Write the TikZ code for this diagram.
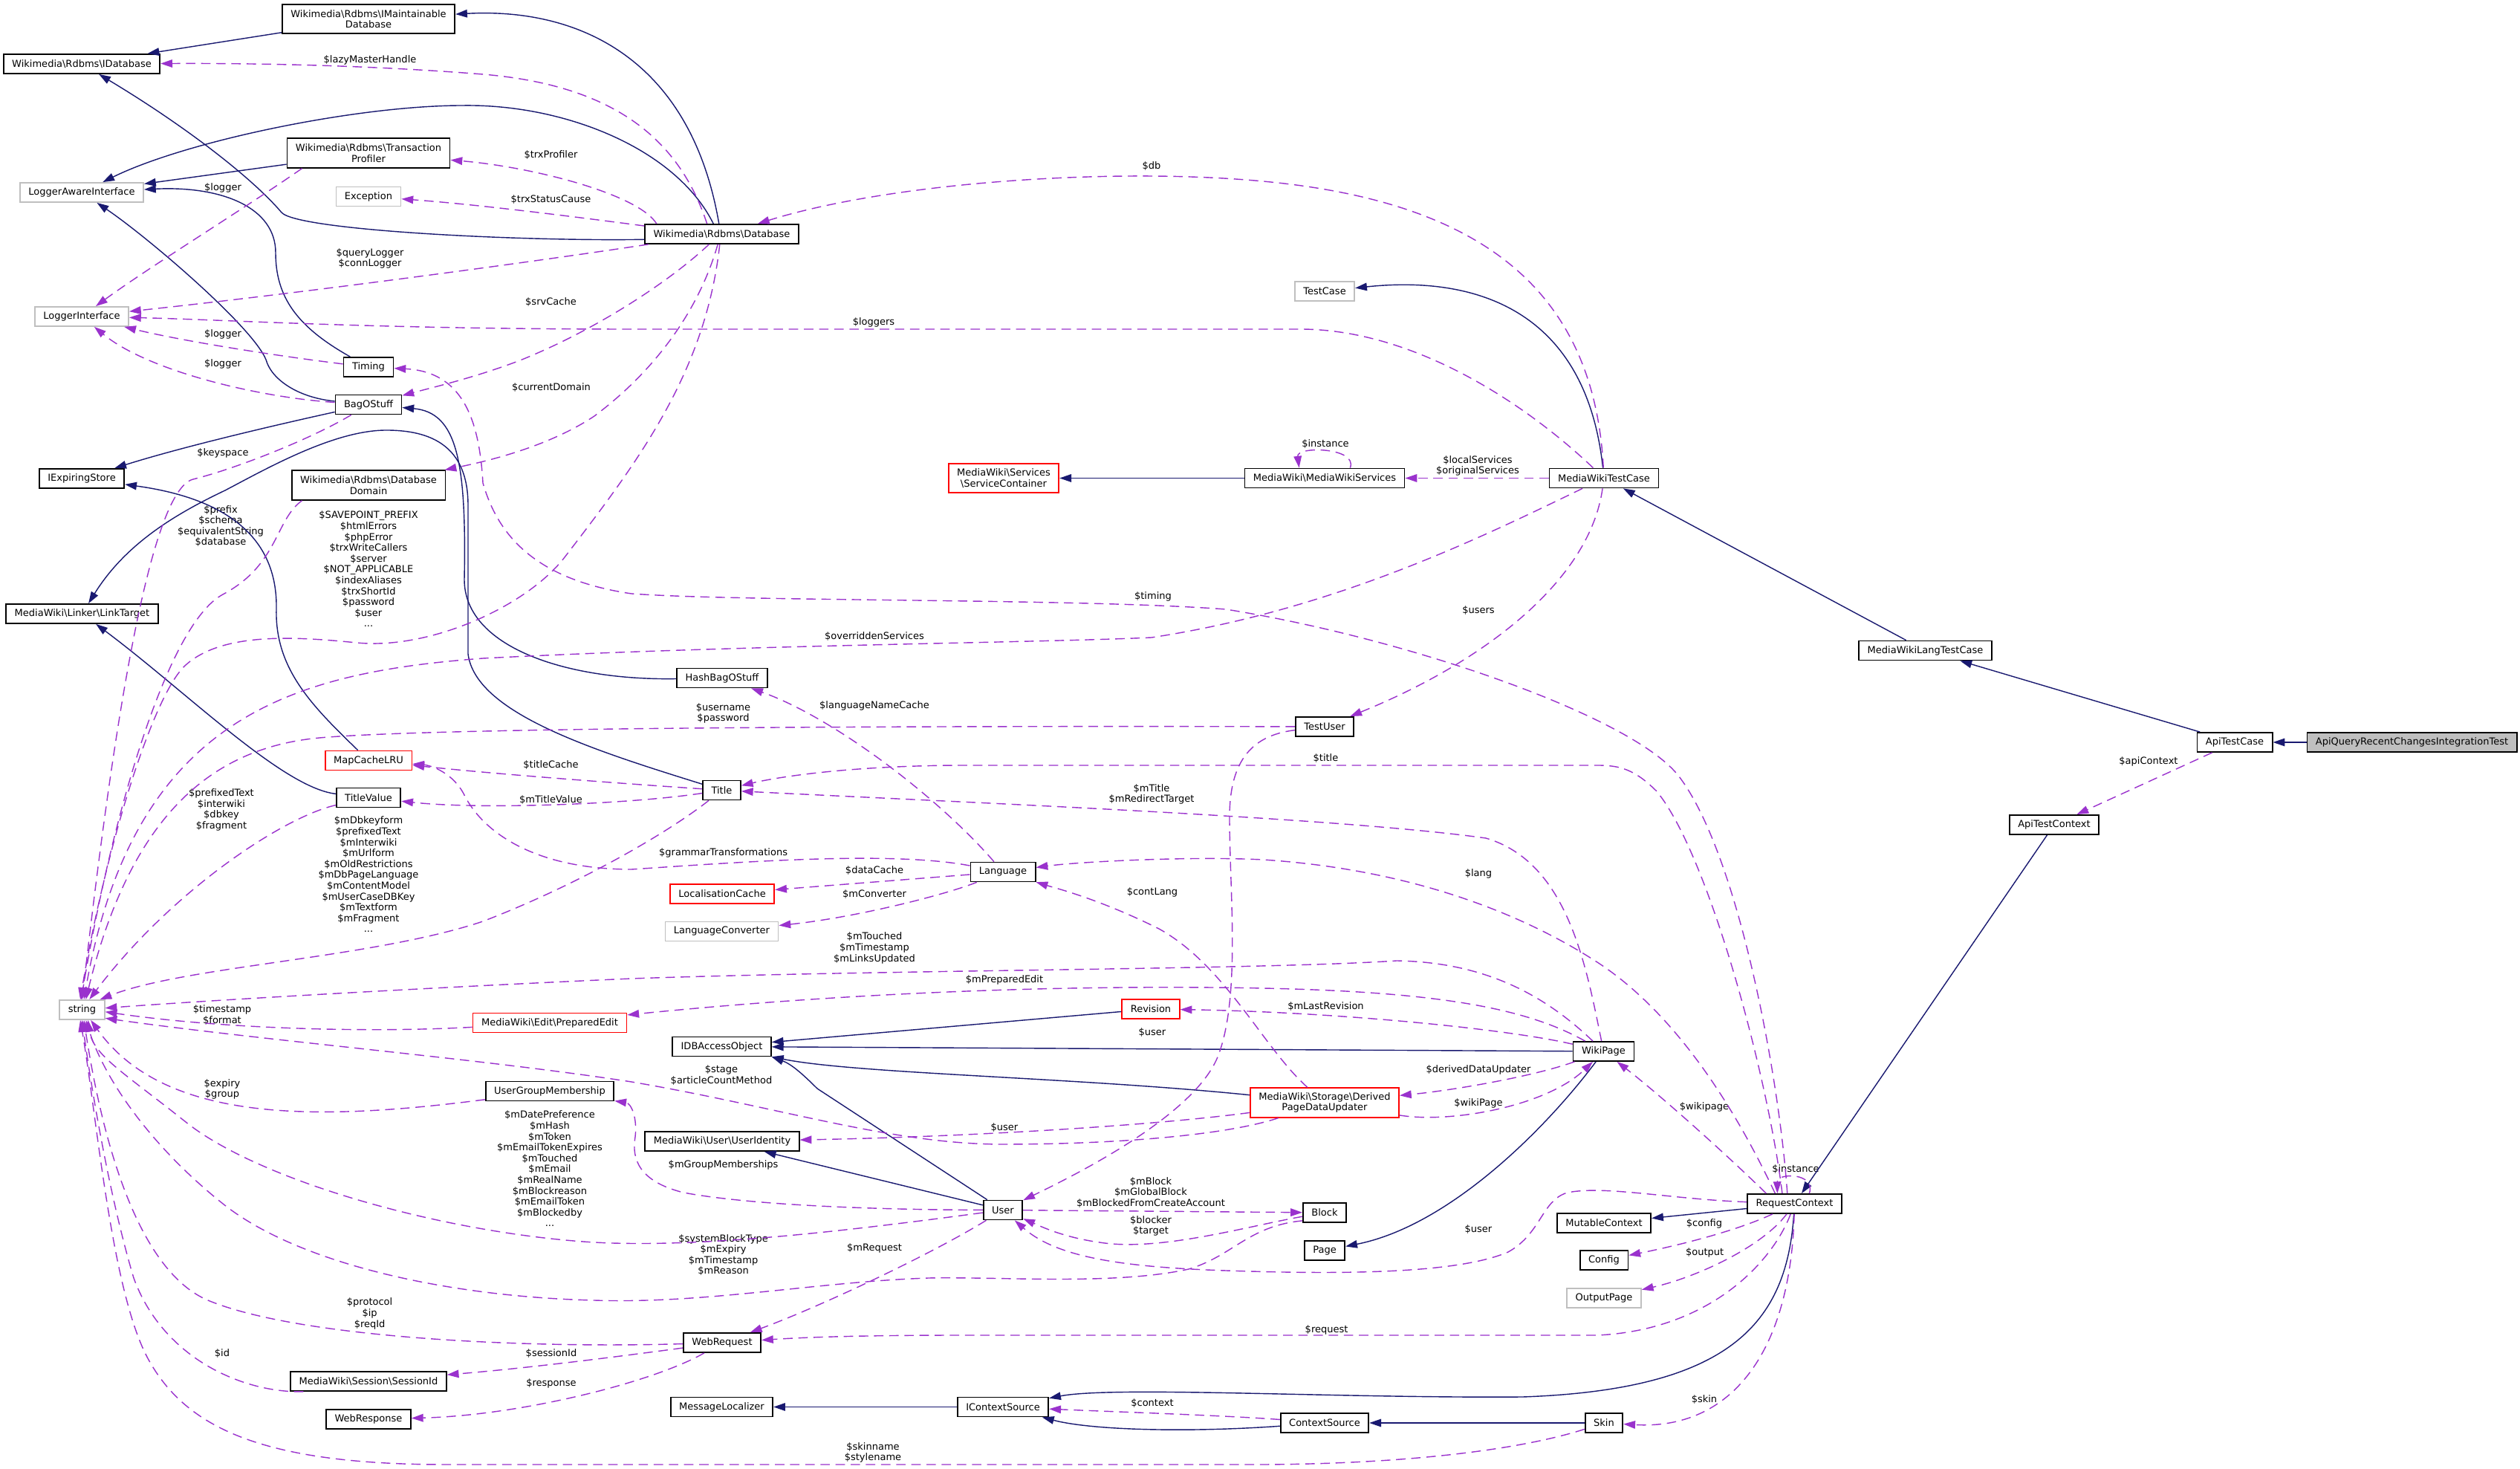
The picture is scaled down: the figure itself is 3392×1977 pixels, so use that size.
\documentclass[tikz,border=0pt]{standalone}
\usepackage{fontspec}
\setmainfont{DejaVu Sans}
\usetikzlibrary{arrows.meta}
\definecolor{EdgeNavy}{HTML}{191970}
\definecolor{EdgeOrchid}{HTML}{9A32CD}
\definecolor{Grey75}{HTML}{BFBFBF}
\newcommand{\bsl}{\textbackslash}

\begin{document}
\begin{tikzpicture}[
        x=0.01cm, y=-0.01cm,
        every node/.style={font=\fontsize{3.7}{4.15}\selectfont, inner sep=0pt},
        cls/.style={draw=black, fill=white, line width=0.5pt, align=center, inner xsep=0.115cm, inner ysep=0.04cm, minimum height=0.26cm},
        twoline/.style={minimum height=0.395cm},
        extcls/.style={cls, draw=Grey75},
        trunccls/.style={cls, draw=red},
        focuscls/.style={cls, fill=Grey75},
        lbl/.style={align=center},
        inherit/.style={-{Triangle[length=4.5pt,width=3pt]}, line width=0.4pt, draw=EdgeNavy},
        member/.style={-{Triangle[length=4.5pt,width=3pt]}, line width=0.4pt, draw=EdgeOrchid, dash pattern=on 3.6pt off 2.2pt}
    ]
        \path[use as bounding box, fill=white] (0,0) rectangle (3392,1977);

        \node[cls, twoline] (imdb) at (496,25.5) {Wikimedia\bsl Rdbms\bsl IMaintainable\\Database};
        \node[cls] (idb) at (110,86) {Wikimedia\bsl Rdbms\bsl IDatabase};
        \node[cls, twoline] (tp) at (496,206) {Wikimedia\bsl Rdbms\bsl Transaction\\Profiler};
        \node[extcls] (lai) at (110,259) {LoggerAwareInterface};
        \node[extcls] (exc) at (496,264.5) {Exception};
        \node[cls] (db) at (971.5,315) {Wikimedia\bsl Rdbms\bsl Database};
        \node[extcls] (tc) at (1783,392) {TestCase};
        \node[extcls] (logi) at (110,426) {LoggerInterface};
        \node[cls] (tim) at (496,494) {Timing};
        \node[cls] (bos) at (496,544.5) {BagOStuff};
        \node[cls] (exps) at (110,644) {IExpiringStore};
        \node[cls, twoline] (dd) at (496,653) {Wikimedia\bsl Rdbms\bsl Database\\Domain};
        \node[trunccls, twoline] (sc) at (1351,643.5) {MediaWiki\bsl Services\\\bsl ServiceContainer};
        \node[cls] (mws) at (1783,643.5) {MediaWiki\bsl MediaWikiServices};
        \node[cls] (mwtc) at (2159,643.5) {MediaWikiTestCase};
        \node[cls] (lt) at (110.5,826) {MediaWiki\bsl Linker\bsl LinkTarget};
        \node[cls] (mwltc) at (2591.5,875.5) {MediaWikiLangTestCase};
        \node[cls] (hbos) at (972,912.5) {HashBagOStuff};
        \node[cls] (tu) at (1783,978) {TestUser};
        \node[cls] (atc) at (3008,999) {ApiTestCase};
        \node[focuscls] (aq) at (3246.5,999) {ApiQueryRecentChangesIntegrationTest};
        \node[trunccls] (mcl) at (496,1023.5) {MapCacheLRU};
        \node[cls] (ttl) at (971.5,1063.5) {Title};
        \node[cls] (tv) at (496,1073.5) {TitleValue};
        \node[cls] (atctx) at (2765,1110) {ApiTestContext};
        \node[cls] (lang) at (1350,1173.5) {Language};
        \node[trunccls] (lc) at (972,1203) {LocalisationCache};
        \node[extcls] (lconv) at (971.5,1253.5) {LanguageConverter};
        \node[extcls] (str) at (110.5,1359) {string};
        \node[trunccls] (rev) at (1549,1358) {Revision};
        \node[trunccls] (pe) at (740,1376.5) {MediaWiki\bsl Edit\bsl PreparedEdit};
        \node[cls] (idbao) at (971.5,1408.5) {IDBAccessObject};
        \node[cls] (wp) at (2158.5,1415) {WikiPage};
        \node[cls] (ugm) at (740,1468.5) {UserGroupMembership};
        \node[trunccls, twoline] (dpdu) at (1783,1484) {MediaWiki\bsl Storage\bsl Derived\\PageDataUpdater};
        \node[cls] (uid) at (972,1536) {MediaWiki\bsl User\bsl UserIdentity};
        \node[cls] (rc) at (2415.5,1620) {RequestContext};
        \node[cls] (usr) at (1350,1628.5) {User};
        \node[cls] (blk) at (1783,1632) {Block};
        \node[cls] (mc) at (2159,1646) {MutableContext};
        \node[cls] (pg) at (1783,1683) {Page};
        \node[cls] (cfg) at (2159,1696) {Config};
        \node[extcls] (op) at (2159,1747) {OutputPage};
        \node[cls] (wreq) at (972,1807) {WebRequest};
        \node[cls] (sid) at (496,1859) {MediaWiki\bsl Session\bsl SessionId};
        \node[cls] (ml) at (971.5,1893.5) {MessageLocalizer};
        \node[cls] (ics) at (1350,1893.5) {IContextSource};
        \node[cls] (wres) at (496,1910) {WebResponse};
        \node[cls] (cs) at (1783,1915) {ContextSource};
        \node[cls] (skin) at (2159,1915) {Skin};

        \node[lbl] (lLazy) at (498,81) {\$lazyMasterHandle};
        \node[lbl] (lTrxProf) at (741.5,209) {\$trxProfiler};
        \node[lbl] (lLogTp) at (300,252.5) {\$logger};
        \node[lbl] (lTrxStat) at (741.5,268.5) {\$trxStatusCause};
        \node[lbl] (lQuery) at (498,348) {\$queryLogger\\\$connLogger};
        \node[lbl] (lSrv) at (741.5,406.6) {\$srvCache};
        \node[lbl] (lLogTim) at (300,450) {\$logger};
        \node[lbl] (lLogBos) at (300,489.5) {\$logger};
        \node[lbl] (lDomain) at (742,522) {\$currentDomain};
        \node[lbl] (lKey) at (300,610) {\$keyspace};
        \node[lbl] (lDb) at (1550,224) {\$db};
        \node[lbl] (lLoggers) at (1176,434) {\$loggers};
        \node[lbl] (lInstMws) at (1784,597.6) {\$instance};
        \node[lbl] (lServices) at (1989,627) {\$localServices\\\$originalServices};
        \node[lbl] (lPrefix) at (297,708) {\$prefix\\\$schema\\\$equivalentString\\\$database};
        \node[lbl] (lSave) at (496,766) {\$SAVEPOINT\_PREFIX\\\$htmlErrors\\\$phpError\\\$trxWriteCallers\\\$server\\\$NOT\_APPLICABLE\\\$indexAliases\\\$trxShortId\\\$password\\\$user\\...};
        \node[lbl] (lTiming) at (1552,803) {\$timing};
        \node[lbl] (lOverr) at (1177,857) {\$overriddenServices};
        \node[lbl] (lUsers) at (1990,822) {\$users};
        \node[lbl] (lLangName) at (1177,950) {\$languageNameCache};
        \node[lbl] (lUserPw) at (973.5,960) {\$username\\\$password};
        \node[lbl] (lTitle) at (1784.5,1021) {\$title};
        \node[lbl] (lTitleCache) at (741.5,1030) {\$titleCache};
        \node[lbl] (lApiCtx) at (2892,1025) {\$apiContext};
        \node[lbl] (lMTitle) at (1550,1069) {\$mTitle\\\$mRedirectTarget};
        \node[lbl] (lTitleVal) at (741.5,1076.6) {\$mTitleValue};
        \node[lbl] (lPrefText) at (298,1090) {\$prefixedText\\\$interwiki\\\$dbkey\\\$fragment};
        \node[lbl] (lDbkey) at (496,1177) {\$mDbkeyform\\\$prefixedText\\\$mInterwiki\\\$mUrlform\\\$mOldRestrictions\\\$mDbPageLanguage\\\$mContentModel\\\$mUserCaseDBKey\\\$mTextform\\\$mFragment\\...};
        \node[lbl] (lGrammar) at (973.6,1148) {\$grammarTransformations};
        \node[lbl] (lDataCache) at (1177,1172) {\$dataCache};
        \node[lbl] (lLang) at (1990,1176) {\$lang};
        \node[lbl] (lConv) at (1177,1204) {\$mConverter};
        \node[lbl] (lContLang) at (1551,1201) {\$contLang};
        \node[lbl] (lTouched) at (1177,1276) {\$mTouched\\\$mTimestamp\\\$mLinksUpdated};
        \node[lbl] (lPrepEdit) at (1352,1319) {\$mPreparedEdit};
        \node[lbl] (lLastRev) at (1784.5,1354.5) {\$mLastRevision};
        \node[lbl] (lTimestamp) at (299,1366) {\$timestamp\\\$format};
        \node[lbl] (lUserTu) at (1551,1390) {\$user};
        \node[lbl] (lDerived) at (1990,1440) {\$derivedDataUpdater};
        \node[lbl] (lStage) at (971,1447) {\$stage\\\$articleCountMethod};
        \node[lbl] (lExpiry) at (299,1466) {\$expiry\\\$group};
        \node[lbl] (lWikiPageU) at (1990,1484.5) {\$wikiPage};
        \node[lbl] (lWikipageRc) at (2294,1490) {\$wikipage};
        \node[lbl] (lUserDpdu) at (1352,1518) {\$user};
        \node[lbl] (lGroups) at (973.6,1568) {\$mGroupMemberships};
        \node[lbl] (lInstRc) at (2417,1574) {\$instance};
        \node[lbl] (lDatePref) at (740,1573) {\$mDatePreference\\\$mHash\\\$mToken\\\$mEmailTokenExpires\\\$mTouched\\\$mEmail\\\$mRealName\\\$mBlockreason\\\$mEmailToken\\\$mBlockedby\\...};
        \node[lbl] (lBlock) at (1549,1605) {\$mBlock\\\$mGlobalBlock\\\$mBlockedFromCreateAccount};
        \node[lbl] (lConfig) at (2294,1646.5) {\$config};
        \node[lbl] (lBlocker) at (1549,1650) {\$blocker\\\$target};
        \node[lbl] (lUserRc) at (1990,1654.5) {\$user};
        \node[lbl] (lMReq) at (1177,1680) {\$mRequest};
        \node[lbl] (lOutput) at (2294.6,1685.7) {\$output};
        \node[lbl] (lSysBlock) at (973.6,1689) {\$systemBlockType\\\$mExpiry\\\$mTimestamp\\\$mReason};
        \node[lbl] (lProto) at (497.6,1768) {\$protocol\\\$ip\\\$reqId};
        \node[lbl] (lRequest) at (1785.6,1789.6) {\$request};
        \node[lbl] (lId) at (299,1822) {\$id};
        \node[lbl] (lSession) at (742,1822) {\$sessionId};
        \node[lbl] (lResponse) at (742,1862) {\$response};
        \node[lbl] (lSkin) at (2294,1884) {\$skin};
        \node[lbl] (lContext) at (1551,1889) {\$context};
        \node[lbl] (lSkinName) at (1175,1955) {\$skinname\\\$stylename};

        \draw[inherit] (imdb) -- (idb);
        \draw[inherit] (db.105) .. controls (930,80) and (780,10) .. (imdb);
        \draw[inherit] (db.129) .. controls (910,200) and (760,140) .. (623,142) .. controls (480,142) and (250,190) .. (lai);
        \draw[inherit] (db.184) .. controls (700,325) and (400,310) .. (379,286) .. controls (340,240) and (250,170) .. (idb);
        \draw[inherit] (tp) -- (lai);
        \draw[inherit] (tim) .. controls (400,440) and (371,400) .. (371,340) .. controls (371,280) and (300,250) .. (lai);
        \draw[inherit] (bos) .. controls (400,535) and (365,510) .. (358,484) .. controls (340,440) and (200,320) .. (lai);
        \draw[inherit] (bos) .. controls (380,570) and (250,600) .. (exps);
        \draw[inherit] (hbos) .. controls (760,916) and (625,870) .. (625,780) .. controls (628,620) and (615,555) .. (bos);
        \draw[inherit] (mcl) .. controls (420,950) and (370,900) .. (372,820) .. controls (374,720) and (300,670) .. (exps);
        \draw[inherit] (ttl) .. controls (800,1010) and (640,960) .. (630,880) -- (630,680) .. controls (630,600) and (580,579) .. (520,579) .. controls (450,579) and (360,630) .. (303,660) .. controls (240,690) and (170,730) .. (lt);
        \draw[inherit] (tv) .. controls (380,1060) and (250,930) .. (lt);
        \draw[inherit] (mwtc) .. controls (2135,420) and (1990,370) .. (tc);
        \draw[inherit] (mws) -- (sc);
        \draw[inherit] (mwltc) -- (mwtc);
        \draw[inherit] (atc) -- (mwltc);
        \draw[inherit] (aq) -- (atc);
        \draw[inherit] (atctx) -- (rc);
        \draw[inherit] (rev) -- (idbao);
        \draw[inherit] (wp) -- (idbao);
        \draw[inherit] (dpdu) .. controls (1450,1450) and (1150,1445) .. (idbao);
        \draw[inherit] (usr) -- (1100,1465) .. controls (1080,1445) and (1065,1432) .. (idbao.south east);
        \draw[inherit] (usr) -- (uid);
        \draw[inherit] (wp) .. controls (2080,1520) and (1950,1650) .. (pg);
        \draw[inherit] (rc) -- (mc);
        \draw[inherit] (rc) .. controls (2405,1780) and (2330,1870) .. (2050,1880) .. controls (1800,1882) and (1500,1865) .. (ics);
        \draw[inherit] (cs) .. controls (1600,1928) and (1470,1925) .. (ics);
        \draw[inherit] (ics) -- (ml);
        \draw[inherit] (skin) -- (cs);

        \draw[member] (db.145) .. controls (915,190) and (830,115) .. (650,100) .. controls (500,88) and (350,85) .. (idb);
        \draw[member] (db.171) .. controls (860,262) and (720,225) .. (tp);
        \draw[member] (db.174) .. controls (760,290) and (640,275) .. (exc);
        \draw[member] (db.188) .. controls (700,355) and (400,395) .. (logi);
        \draw[member] (db.219) .. controls (900,380) and (800,445) .. (700,485) .. controls (640,508) and (580,522) .. (bos);
        \draw[member] (db.249) .. controls (940,420) and (880,500) .. (800,560) .. controls (740,600) and (660,620) .. (dd);
        \draw[member] (db.259) .. controls (950,500) and (860,620) .. (760,750) .. controls (710,815) and (580,875) .. (480,865) .. controls (400,857) and (300,850) .. (250,895) .. controls (205,935) and (140,1150) .. (str.100);
        \draw[member] (dd.193) .. controls (370,700) and (375,760) .. (300,800) .. controls (225,840) and (150,1100) .. (str.95);
        \draw[member] (bos) .. controls (420,590) and (320,630) .. (260,645) .. controls (200,660) and (150,1000) .. (str.90);
        \draw[member] (tp.193) .. controls (330,280) and (200,360) .. (logi);
        \draw[member] (tim) .. controls (380,480) and (250,460) .. (logi);
        \draw[member] (bos) .. controls (350,535) and (200,500) .. (logi);
        \draw[member] (mwtc) .. controls (2145,380) and (1980,270) .. (1700,244) .. controls (1500,225) and (1200,245) .. (db.16);
        \draw[member] (mwtc) .. controls (2050,540) and (1900,443) .. (1750,443) -- (850,443) .. controls (500,443) and (300,430) .. (logi);
        \draw[member] (mwtc) -- (mws);
        \draw[member] (mwtc) .. controls (2000,720) and (1800,820) .. (1550,858) .. controls (1400,865) and (1000,868) .. (650,886) .. controls (400,905) and (180,960) .. (str.80);
        \draw[member] (mwtc) .. controls (2140,780) and (2000,890) .. (tu);
        \draw[member] (mws.22) .. controls (1828,602) and (1745,600) .. (mws.158);
        \draw[member] (rc.125) .. controls (2395,1450) and (2340,1150) .. (2260,1045) .. controls (2200,966) and (1900,860) .. (1650,820) .. controls (1450,805) and (1000,810) .. (850,799) .. controls (720,780) and (670,720) .. (650,650) .. controls (645,560) and (620,500) .. (tim);
        \draw[member] (rc.140) .. controls (2380,1450) and (2300,1150) .. (2230,1065) .. controls (2200,1035) and (2180,1030) .. (2150,1030) -- (1300,1030) .. controls (1150,1030) and (1050,1045) .. (ttl);
        \draw[member] (wp) .. controls (2135,1300) and (2110,1160) .. (2000,1128) .. controls (1800,1100) and (1300,1080) .. (ttl);
        \draw[member] (rc.152) .. controls (2330,1480) and (2250,1360) .. (2150,1295) .. controls (2050,1230) and (1900,1170) .. (1700,1157) .. controls (1600,1152) and (1450,1160) .. (lang);
        \draw[member] (wp) .. controls (2080,1340) and (2000,1295) .. (1880,1293) .. controls (1700,1305) and (1200,1305) .. (850,1317) .. controls (600,1328) and (300,1345) .. (str);
        \draw[member] (wp) .. controls (2060,1360) and (1950,1335) .. (1700,1330) .. controls (1400,1324) and (1100,1340) .. (pe);
        \draw[member] (wp) .. controls (2030,1385) and (1800,1362) .. (rev);
        \draw[member] (tu) .. controls (1300,977) and (600,978) .. (430,993) .. controls (300,1005) and (180,1080) .. (str.70);
        \draw[member] (tu) .. controls (1680,990) and (1655,1030) .. (1655,1100) .. controls (1655,1200) and (1670,1340) .. (1640,1420) .. controls (1610,1500) and (1450,1580) .. (usr);
        \draw[member] (dpdu) .. controls (1700,1410) and (1650,1300) .. (1560,1250) .. controls (1480,1210) and (1420,1195) .. (lang);
        \draw[member] (lang) .. controls (1260,1070) and (1120,965) .. (hbos);
        \draw[member] (lang) .. controls (1200,1145) and (1000,1160) .. (850,1170) .. controls (720,1170) and (650,1120) .. (625,1070) .. controls (610,1040) and (580,1030) .. (mcl);
        \draw[member] (lang) -- (lc);
        \draw[member] (lang) .. controls (1270,1205) and (1150,1235) .. (lconv);
        \draw[member] (ttl) .. controls (800,1052) and (650,1040) .. (mcl);
        \draw[member] (ttl) .. controls (850,1082) and (650,1090) .. (tv);
        \draw[member] (ttl) .. controls (900,1120) and (780,1190) .. (650,1240) .. controls (500,1290) and (250,1300) .. (str.30);
        \draw[member] (tv) .. controls (380,1100) and (230,1200) .. (str.55);
        \draw[member] (pe) .. controls (500,1390) and (300,1385) .. (str.-5);
        \draw[member] (dpdu) .. controls (1650,1528) and (1500,1540) .. (1350,1540) .. controls (1200,1540) and (1050,1490) .. (850,1456) .. controls (650,1425) and (350,1400) .. (str.-20);
        \draw[member] (dpdu) .. controls (1550,1515) and (1300,1530) .. (uid);
        \draw[member] (wp) .. controls (2060,1450) and (1950,1468) .. (dpdu);
        \draw[member] (dpdu) .. controls (1950,1512) and (2080,1490) .. (wp);
        \draw[member] (rc.160) .. controls (2320,1550) and (2230,1470) .. (wp);
        \draw[member] (rc.35) .. controls (2445,1578) and (2392,1578) .. (rc.149);
        \draw[member] (rc) .. controls (2250,1614) and (2160,1595) .. (2110,1605) .. controls (2075,1615) and (2075,1660) .. (2030,1685) .. controls (1960,1715) and (1800,1715) .. (1650,1710) .. controls (1500,1705) and (1420,1690) .. (usr);
        \draw[member] (rc) .. controls (2330,1660) and (2240,1680) .. (cfg);
        \draw[member] (rc) .. controls (2370,1680) and (2280,1720) .. (op);
        \draw[member] (rc) .. controls (2385,1700) and (2300,1790) .. (2150,1797) -- (1300,1797) .. controls (1150,1797) and (1080,1800) .. (wreq);
        \draw[member] (rc) .. controls (2410,1820) and (2330,1925) .. (skin);
        \draw[member] (cs) .. controls (1650,1905) and (1500,1900) .. (ics);
        \draw[member] (skin) .. controls (2050,1950) and (1900,1970) .. (1700,1971) -- (600,1971) .. controls (350,1971) and (250,1920) .. (200,1830) .. controls (150,1740) and (130,1500) .. (str.-100);
        \draw[member] (usr) .. controls (1250,1690) and (1100,1760) .. (wreq);
        \draw[member] (usr) -- (blk);
        \draw[member] (blk) .. controls (1680,1650) and (1560,1685) .. (1480,1672) .. controls (1430,1665) and (1400,1650) .. (usr);
        \draw[member] (blk.200) .. controls (1680,1650) and (1660,1690) .. (1600,1708) .. controls (1500,1730) and (1350,1718) .. (1250,1720) .. controls (1100,1725) and (950,1755) .. (800,1750) .. controls (600,1745) and (400,1700) .. (300,1620) .. controls (200,1540) and (140,1450) .. (str.-70);
        \draw[member] (usr) .. controls (1150,1628) and (1000,1620) .. (920,1605) .. controls (860,1590) and (850,1560) .. (855,1530) .. controls (858,1505) and (850,1485) .. (ugm);
        \draw[member] (usr) .. controls (1150,1655) and (950,1680) .. (800,1672) .. controls (600,1660) and (350,1590) .. (250,1510) .. controls (170,1446) and (125,1420) .. (str.-60);
        \draw[member] (ugm) .. controls (420,1510) and (220,1510) .. (str.-50);
        \draw[member] (wreq) .. controls (700,1815) and (400,1800) .. (280,1750) .. controls (190,1712) and (140,1550) .. (str.-80);
        \draw[member] (wreq) .. controls (800,1830) and (700,1842) .. (sid);
        \draw[member] (wreq) .. controls (880,1860) and (700,1905) .. (wres);
        \draw[member] (sid.189) .. controls (330,1875) and (220,1830) .. (180,1720) .. controls (150,1620) and (125,1480) .. (str.-90);
        \draw[member] (atc) -- (atctx);
    \end{tikzpicture}
\end{document}
